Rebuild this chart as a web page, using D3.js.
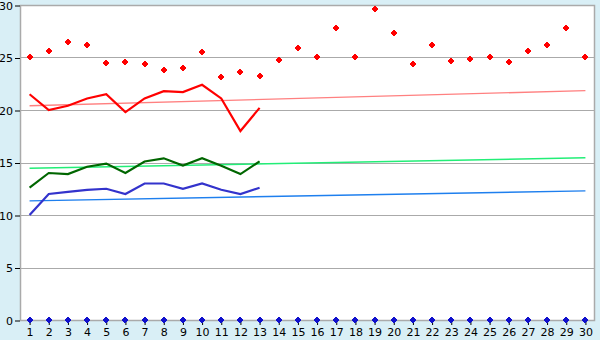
<!DOCTYPE html>
<html><head><meta charset="utf-8">
<script src="https://cdn.jsdelivr.net/npm/d3@7"></script>
<style>body{margin:0;background:#d9eff6}svg{display:block}text{font-family:"DejaVu Sans",Verdana,sans-serif;font-size:11px;fill:#000}</style>
</head><body><svg id="c" width="600" height="340"></svg>
<script>
const categories = d3.range(1, 31).map(String);
const yTicks = [0, 5, 10, 15, 20, 25, 30];
const redPoints = [25.0, 25.6, 26.5, 26.2, 24.5, 24.6, 24.4, 23.8, 24.0, 25.5, 23.1, 23.6, 23.2, 24.8, 25.9, 25.0, 27.8, 25.0, 29.6, 27.3, 24.4, 26.2, 24.7, 24.9, 25.0, 24.6, 25.6, 26.2, 27.8, 25.0];
const redLine = [21.5, 20.0, 20.4, 21.1, 21.5, 19.8, 21.1, 21.8, 21.7, 22.4, 21.1, 18.0, 20.2];
const greenLine = [12.6, 14.0, 13.9, 14.6, 14.9, 14.0, 15.1, 15.4, 14.7, 15.4, 14.7, 13.9, 15.1];
const blueLine = [10.0, 12.0, 12.2, 12.4, 12.5, 12.0, 13.0, 13.0, 12.5, 13.0, 12.4, 12.0, 12.6];
const zeroPoints = new Array(30).fill(0);
const redTrend = [20.4, 21.85];
const greenTrend = [14.45, 15.45];
const blueTrend = [11.35, 12.3];

const svg = d3.select("#c");
const L = 20, R = 595, T = 5, B = 320;
const x = d3.scaleBand().domain(categories).range([L, R]);
const cx = c => x(c) + x.bandwidth() / 2;
const y = d3.scaleLinear().domain([0, 30]).range([B, T]);

svg.append("rect").attr("x", L).attr("y", T).attr("width", R - L).attr("height", B - T).attr("fill", "#fff");
// grid
svg.append("g").selectAll("line").data(yTicks.filter(d => d > 0)).join("line")
  .attr("x1", L).attr("x2", R).attr("y1", d => Math.round(y(d)) + 0.5).attr("y2", d => Math.round(y(d)) + 0.5)
  .attr("stroke", "#aaa").attr("stroke-width", 1);
// border
svg.append("rect").attr("x", L + 0.5).attr("y", T + 0.5).attr("width", R - L - 1).attr("height", B - T)
  .attr("fill", "none").attr("stroke", "#aaa").attr("stroke-width", 1.5);

// y axis
const ya = d3.axisLeft(y).tickValues(yTicks).tickSize(5).tickPadding(2);
const gy = svg.append("g").attr("transform", `translate(${L},0.5)`).call(ya);
gy.select(".domain").remove();
gy.selectAll(".tick line").attr("stroke", "#000");
gy.selectAll("text").style("font-size", "11px").attr("fill", "#000");

// x axis
const xa = d3.axisBottom(x).tickSize(5).tickPadding(3);
const gx = svg.append("g").attr("transform", `translate(0.5,${B})`).call(xa);
gx.select(".domain").remove();
gx.selectAll(".tick line").attr("stroke", "#000");
gx.selectAll("text").style("font-size", "11px").attr("fill", "#000");

// trend lines
const trends = [[redTrend, "#ff8080"], [greenTrend, "#22ee77"], [blueTrend, "#1e7fee"]];
trends.forEach(([t, col]) => {
  svg.append("line").attr("x1", cx(categories[0])).attr("x2", cx(categories[categories.length - 1]))
    .attr("y1", y(t[0])).attr("y2", y(t[1])).attr("stroke", col).attr("stroke-width", 1.4);
});

// main lines
const line = d3.line().x((d, i) => cx(categories[i])).y(d => y(d));
[[redLine, "#ff0000"], [greenLine, "#006600"], [blueLine, "#3333cc"]].forEach(([s, col]) => {
  svg.append("path").datum(s).attr("d", line).attr("fill", "none").attr("stroke", col).attr("stroke-width", 2.2);
});

// markers
const cross = (w, t) => `M${-w/2},${-t/2}h${w}v${t}h${-w}z M${-t/2},${-w/2}h${t}v${w}h${-t}z M-2,-2h4v4h-4z`;
svg.append("g").selectAll("path").data(redPoints).join("path")
  .attr("transform", (d, i) => `translate(${Math.round(cx(categories[i]))},${Math.round(y(d))})`)
  .attr("d", cross(6, 2)).attr("fill", "#ff0000").attr("shape-rendering", "crispEdges");
svg.append("g").selectAll("path").data(zeroPoints).join("path")
  .attr("transform", (d, i) => `translate(${Math.round(cx(categories[i]))},${Math.round(y(d))})`)
  .attr("d", cross(6, 2)).attr("fill", "#1010cc").attr("shape-rendering", "crispEdges");
</script></body></html>
